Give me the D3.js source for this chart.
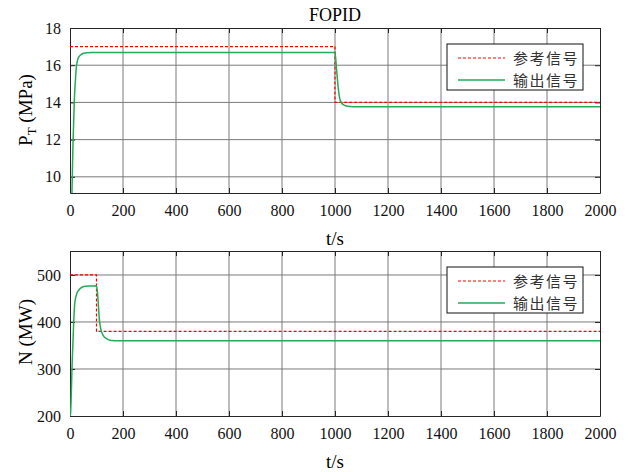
<!DOCTYPE html>
<html>
<head>
<meta charset="utf-8">
<script src="https://cdn.jsdelivr.net/npm/d3@7"></script>
<style>
body { margin: 0; background: #fff; }
svg { display: block; }
.tick text { font-family: "Liberation Serif", "Times New Roman", serif; }
</style>
</head>
<body>
<div id="display"></div>
<script>
// time axis ticks (shared)
var xTicks = [0, 200, 400, 600, 800, 1000, 1200, 1400, 1600, 1800, 2000];

// top: P_T (MPa)
var pTicks = [10, 12, 14, 16, 18];
var pRefT = [0, 1000, 1000, 2000];
var pRefV = [17, 17, 14, 14];
var pOutT = [0, 7.5, 11, 16, 20, 24, 28, 33, 40, 52, 65, 83, 1000, 1006, 1013, 1019, 1025, 1031, 1040, 1057, 1080, 2000];
var pOutV = [5, 9.2, 11.6, 14.0, 15.1, 15.9, 16.25, 16.43, 16.55, 16.64, 16.67, 16.68, 16.68, 15.75, 14.68, 14.14, 13.97, 13.88, 13.82, 13.78, 13.77, 13.77];

// bottom: N (MW)
var nTicks = [200, 300, 400, 500];
var nRefT = [0, 100, 100, 2000];
var nRefV = [500, 500, 380, 380];
var nOutT = [0, 2, 8, 14, 18, 22, 26, 35, 45, 60, 80, 100, 104, 111, 117, 122, 127, 136, 146, 160, 171, 2000];
var nOutV = [200, 205, 310, 400, 440, 453, 461, 469, 474, 476, 476.5, 477, 460, 404, 383, 375, 370, 365, 362, 360.5, 360, 360];

var legendNames = ['参考信号', '输出信号'];

var W = 632, H = 472;
var left = 70, right = 600;
var serif = '"Liberation Serif", "Times New Roman", serif';
var cjk = '"Noto Sans CJK SC", sans-serif';
var refColor = '#ff0000', outColor = '#1fae55';

var svg = d3.select('#display').append('svg')
	.attr('width', W).attr('height', H);

var x = d3.scaleLinear().domain([0, 2000]).range([left, right]);

svg.append('text')
	.attr('x', 335).attr('y', 21)
	.attr('text-anchor', 'middle')
	.style('font-family', serif).style('font-size', '18px')
	.text('FOPID');

function zip(ts, vs)
{
	return ts.map(function(t, i) { return [t, vs[i]]; });
}

function DrawPanel(opt)
{
	var y = d3.scaleLinear().domain(opt.domain).range([opt.bottom, opt.top]);
	var g = svg.append('g');
	var id = 'clip' + opt.name;
	var fmt = d3.format('d');

	svg.append('clipPath').attr('id', id)
		.append('rect')
		.attr('x', left).attr('y', opt.top)
		.attr('width', right - left).attr('height', opt.bottom - opt.top);

	// grid
	g.append('g').selectAll('line').data(xTicks.slice(1, -1)).enter().append('line')
		.attr('x1', function(d) { return x(d); }).attr('x2', function(d) { return x(d); })
		.attr('y1', opt.top).attr('y2', opt.bottom)
		.attr('stroke', '#7a7a7a').attr('stroke-width', 1);
	g.append('g').selectAll('line').data(opt.ticks.filter(function(d) { return y(d) > opt.top + 1 && y(d) < opt.bottom - 1; })).enter().append('line')
		.attr('x1', left).attr('x2', right)
		.attr('y1', function(d) { return y(d); }).attr('y2', function(d) { return y(d); })
		.attr('stroke', '#7a7a7a').attr('stroke-width', 1);

	// axes
	var xa = g.append('g').attr('transform', 'translate(0,' + opt.bottom + ')')
		.call(d3.axisBottom(x).tickValues(xTicks).tickFormat(fmt).tickSizeInner(-5).tickSizeOuter(0).tickPadding(12));
	var xt = g.append('g').attr('transform', 'translate(0,' + opt.top + ')')
		.call(d3.axisTop(x).tickValues(xTicks).tickSizeInner(-5).tickSizeOuter(0).tickFormat(''));
	var ya = g.append('g').attr('transform', 'translate(' + left + ',0)')
		.call(d3.axisLeft(y).tickValues(opt.ticks).tickFormat(fmt).tickSizeInner(-5).tickSizeOuter(0).tickPadding(9));
	var yr = g.append('g').attr('transform', 'translate(' + right + ',0)')
		.call(d3.axisRight(y).tickValues(opt.ticks).tickSizeInner(-5).tickSizeOuter(0).tickFormat(''));
	[xa, xt, ya, yr].forEach(function(a) {
		a.attr('font-family', serif).attr('font-size', 16);
		a.selectAll('.domain').attr('stroke', '#262626');
		a.selectAll('.tick line').attr('stroke', '#262626');
		a.selectAll('text').attr('fill', '#111');
	});

	// lines
	var line = d3.line().x(function(d) { return x(d[0]); }).y(function(d) { return y(d[1]); });
	var lines = g.append('g').attr('clip-path', 'url(#' + id + ')');
	lines.append('path').datum(zip(opt.refT, opt.refV))
		.attr('d', line).attr('fill', 'none')
		.attr('stroke', refColor).attr('stroke-width', 1.2).attr('stroke-dasharray', '3,2');
	lines.append('path').datum(zip(opt.outT, opt.outV))
		.attr('d', line.curve(d3.curveMonotoneX)).attr('fill', 'none')
		.attr('stroke', outColor).attr('stroke-width', 1.5);

	// labels
	svg.append('text')
		.attr('x', 335).attr('y', opt.bottom + 52)
		.attr('text-anchor', 'middle')
		.style('font-family', serif).style('font-size', '19px')
		.text('t/s');
	var yl = svg.append('text')
		.attr('transform', 'translate(32,' + opt.labelY + ') rotate(-90)')
		.attr('text-anchor', 'middle')
		.style('font-family', serif).style('font-size', '19px');
	opt.label(yl);

	// legend
	var lg = svg.append('g').attr('transform', 'translate(447,' + opt.legendY + ')');
	lg.append('rect').attr('width', 136).attr('height', 46)
		.attr('fill', '#fff').attr('stroke', '#111').attr('stroke-width', 1);
	[[refColor, '3,2', 1.2], [outColor, null, 1.5]].forEach(function(s, i) {
		var yy = 14 + i * 22;
		lg.append('line').attr('x1', 11).attr('x2', 58).attr('y1', yy).attr('y2', yy)
			.attr('stroke', s[0]).attr('stroke-width', s[2]).attr('stroke-dasharray', s[1]);
		lg.append('text').attr('x', 66).attr('y', yy + 5.5)
			.style('font-family', cjk).style('font-size', '15px').attr('fill', '#333')
			.style('letter-spacing', '1.5px')
			.text(legendNames[i]);
	});
}

DrawPanel({
	name: 'p', top: 28, bottom: 193, domain: [9.13, 18], ticks: pTicks,
	refT: pRefT, refV: pRefV, outT: pOutT, outV: pOutV,
	labelY: 110, legendY: 44,
	label: function(t) {
		t.append('tspan').text('P');
		t.append('tspan').attr('dy', 4).style('font-size', '13px').text('T');
		t.append('tspan').attr('dy', -4).text(' (MPa)');
	}
});

DrawPanel({
	name: 'n', top: 251, bottom: 416, domain: [200, 551], ticks: nTicks,
	refT: nRefT, refV: nRefV, outT: nOutT, outV: nOutV,
	labelY: 332, legendY: 267,
	label: function(t) { t.text('N (MW)'); }
});
</script>
</body>
</html>
